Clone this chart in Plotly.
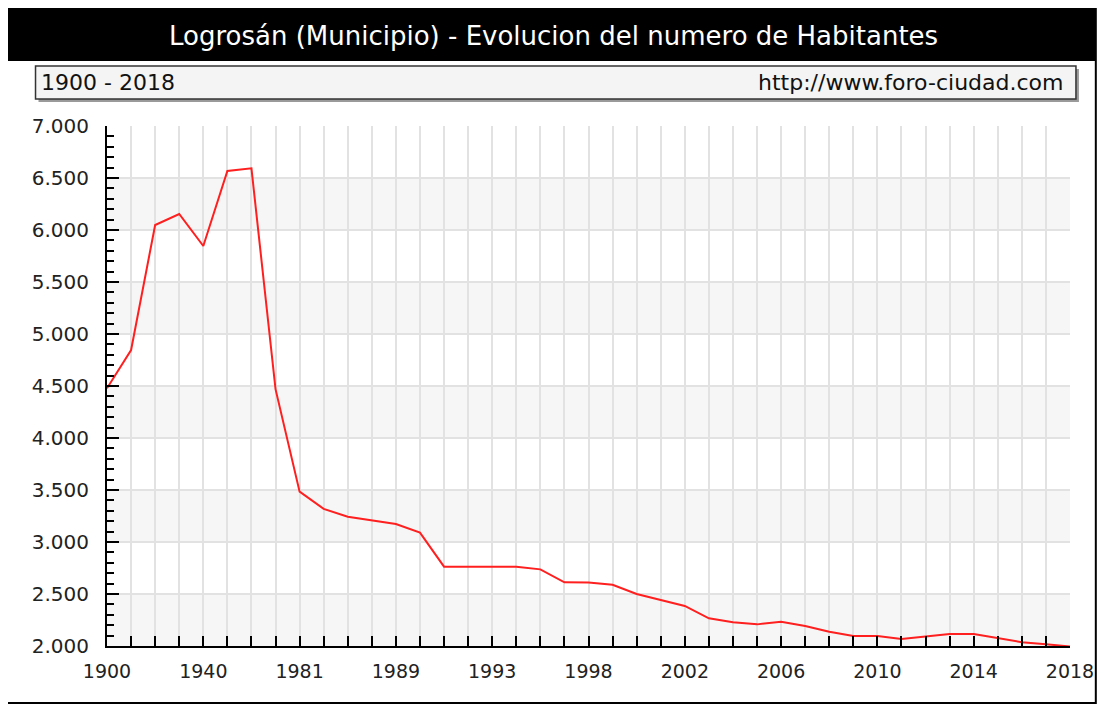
import plotly.graph_objects as go

# ---- data ----
years = ["1900", "1910", "1920", "1930", "1940", "1950", "1960", "1970", "1981",
         "1986", "1987", "1988", "1989", "1990", "1991", "1992", "1993", "1994",
         "1995", "1996", "1998", "1999", "2000", "2001", "2002", "2003", "2004",
         "2005", "2006", "2007", "2008", "2009", "2010", "2011", "2012", "2013",
         "2014", "2015", "2016", "2017", "2018"]
habitantes = [4478, 4846, 6048, 6154, 5846, 6567, 6593, 4470, 3484,
              3318, 3243, 3205, 3173, 3090, 2763, 2763, 2763, 2763,
              2737, 2612, 2610, 2588, 2500, 2442, 2385, 2266, 2228,
              2208, 2234, 2192, 2138, 2096, 2096, 2067, 2090, 2115,
              2115, 2074, 2036, 2017, 1995]
x_label_years = ["1900", "1940", "1981", "1989", "1993", "1998", "2002",
                 "2006", "2010", "2014", "2018"]
y_ticks = [2000, 2500, 3000, 3500, 4000, 4500, 5000, 5500, 6000, 6500, 7000]

title_text = "Logrosán (Municipio) - Evolucion del numero de Habitantes"
period_text = "1900 - 2018"
site_text = "http://www.foro-ciudad.com"

# ---- geometry (page pixels; the html body adds an 8px offset) ----
OFF = 8
W, H = 1114 - 2 * OFF, 713 - 2 * OFF
L, R, T, B = 107 - OFF, 1077 - OFF, 126 - OFF, 646 - OFF


def px(x):
    return (x - OFF - L) / (R - L)


def py(y):
    return (B - (y - OFF)) / (B - T)


FONT = "DejaVu Sans, Verdana, sans-serif"

fig = go.Figure()
fig.add_trace(go.Scatter(
    x=years, y=habitantes, mode="lines",
    line=dict(color="#ff1f1f", width=2),
    hoverinfo="x+y", showlegend=False,
))

shapes = []
# alternating horizontal bands
for lo in range(2000, 7000, 1000):
    shapes.append(dict(type="rect", xref="paper", yref="y", x0=0, x1=1,
                       y0=lo, y1=lo + 500, fillcolor="#f6f6f6",
                       line=dict(width=0), layer="below"))
# outer border
shapes.append(dict(type="rect", xref="paper", yref="paper",
                   x0=px(6), x1=px(1103), y0=py(6), y1=py(703),
                   line=dict(color="black", width=2), fillcolor="rgba(0,0,0,0)",
                   layer="above"))
# title bar
shapes.append(dict(type="rect", xref="paper", yref="paper",
                   x0=px(6), x1=px(1103), y0=py(5), y1=py(61),
                   line=dict(width=0), fillcolor="black", layer="above"))
# subtitle box shadow
shapes.append(dict(type="rect", xref="paper", yref="paper",
                   x0=px(38), x1=px(1086), y0=py(69), y1=py(102),
                   line=dict(width=0), fillcolor="#9a9a9a", layer="above"))
# subtitle box
shapes.append(dict(type="rect", xref="paper", yref="paper",
                   x0=px(35), x1=px(1083), y0=py(66), y1=py(99),
                   line=dict(color="#333333", width=1.5), fillcolor="#f4f4f4",
                   layer="above"))

annotations = [
    dict(text=title_text, xref="paper", yref="paper", x=px(557), y=py(36),
         showarrow=False, xanchor="center", yanchor="middle",
         font=dict(family=FONT, size=26, color="white")),
    dict(text=period_text, xref="paper", yref="paper", x=px(39), y=py(82),
         showarrow=False, xanchor="left", yanchor="middle",
         font=dict(family=FONT, size=22, color="#111111")),
    dict(text=site_text, xref="paper", yref="paper", x=px(1072), y=py(82),
         showarrow=False, xanchor="right", yanchor="middle",
         font=dict(family=FONT, size=22, color="#111111")),
]

fig.update_layout(
    width=W, height=H,
    margin=dict(l=L, r=W - R, t=T, b=H - B, pad=0),
    paper_bgcolor="white", plot_bgcolor="white",
    separators=",.",
    shapes=shapes, annotations=annotations,
    font=dict(family=FONT, size=19, color="#222222"),
)

fig.update_xaxes(
    type="category", range=[0, len(years) - 1],
    tickmode="array", tickvals=years,
    ticktext=[y if y in x_label_years else "" for y in years],
    ticks="inside", ticklen=10, tickwidth=2, tickcolor="black",
    showline=True, linecolor="black", linewidth=2,
    showgrid=True, gridcolor="#e2e2e2", gridwidth=2,
    ticklabelstandoff=7,
    tickfont=dict(family=FONT, size=19, color="#222222"),
    zeroline=False, fixedrange=True,
)
fig.update_yaxes(
    range=[2000, 7000],
    tickmode="array", tickvals=y_ticks, tickformat=",d",
    ticks="inside", ticklen=12, tickwidth=2, tickcolor="black",
    minor=dict(ticks="inside", ticklen=7, tickwidth=2, tickcolor="black",
               dtick=100, tick0=2000, showgrid=False),
    showline=True, linecolor="black", linewidth=2,
    showgrid=True, gridcolor="#e2e2e2", gridwidth=2,
    ticklabelstandoff=12,
    tickfont=dict(family=FONT, size=20, color="#222222"),
    zeroline=False, fixedrange=True,
)

fig.write_html("out.html")
